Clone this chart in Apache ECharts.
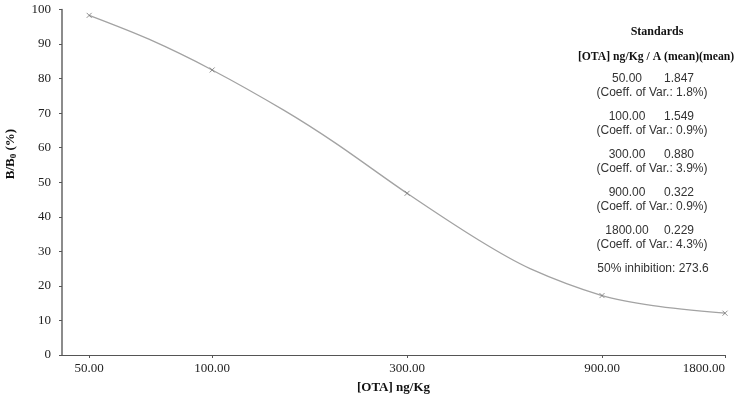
<!DOCTYPE html>
<html>
<head>
<meta charset="utf-8">
<script src="https://cdn.jsdelivr.net/npm/echarts@6/dist/echarts.min.js"></script>
<style>
  html, body { margin: 0; padding: 0; background: #fff; }
  #chart { width: 737px; height: 395px; }
</style>
</head>
<body>
<div id="chart"></div>
<script>
// standards (measured points)
const stdConc = [50, 100, 300, 900, 1800];
const stdBB0 = [98.3, 82.5, 46.8, 17.2, 12.1];
const stdAbs = ['1.847', '1.549', '0.880', '0.322', '0.229'];
const stdCV = ['1.8%', '0.9%', '3.9%', '0.9%', '4.3%'];
const ic50 = '273.6';

// fitted curve
const curveConc = [50, 70, 100, 150, 200, 300, 450, 600, 900, 1200, 1800];
const curveBB0 = [98.3, 91.4, 82.5, 70.8, 61.4, 46.8, 33.2, 25.0, 17.2, 14.3, 12.1];

const xTicks = [50, 100, 300, 900, 1800];

const serif = '"Liberation Serif", "Times New Roman", serif';
const sans = '"Liberation Sans", Arial, sans-serif';

const chart = echarts.init(document.getElementById('chart'));

// right-hand "Standards" block
const side = [
  { type: 'text', x: 657, y: 32, style: { text: 'Standards', font: 'bold 12px ' + serif, fill: '#111', align: 'center', verticalAlign: 'middle' } },
  { type: 'text', x: 656, y: 57, style: { text: '[OTA] ng/Kg / A (mean)(mean)', font: 'bold 11.7px ' + serif, fill: '#111', align: 'center', verticalAlign: 'middle' } }
];
stdConc.forEach((c, i) => {
  const y = 79 + i * 38;
  side.push({ type: 'text', x: 627, y: y, style: { text: c.toFixed(2), font: '12px ' + sans, fill: '#333', align: 'center', verticalAlign: 'middle' } });
  side.push({ type: 'text', x: 679, y: y, style: { text: stdAbs[i], font: '12px ' + sans, fill: '#333', align: 'center', verticalAlign: 'middle' } });
  side.push({ type: 'text', x: 652, y: y + 13.5, style: { text: '(Coeff. of Var.: ' + stdCV[i] + ')', font: '12px ' + sans, fill: '#333', align: 'center', verticalAlign: 'middle' } });
});
side.push({ type: 'text', x: 653, y: 269, style: { text: '50% inhibition: ' + ic50, font: '12px ' + sans, fill: '#333', align: 'center', verticalAlign: 'middle' } });

// y axis title with subscript
side.push({
  type: 'text', x: 11, y: 154, rotation: Math.PI / 2,
  style: {
    text: 'B/B{s|0} (%)', font: 'bold 13px ' + serif, fill: '#111', align: 'center', verticalAlign: 'middle',
    rich: { s: { fontFamily: serif, fontWeight: 'bold', fontSize: 9, verticalAlign: 'bottom', padding: [6, 0, 0, 0] } }
  }
});

const option = {
  animation: false,
  backgroundColor: '#fff',
  grid: { left: 62, right: 12, top: 9.5, bottom: 40, containLabel: false, outerBoundsMode: 'none' },
  xAxis: {
    type: 'log',
    logBase: 10,
    min: 42.9,
    max: 1800,
    name: '[OTA] ng/Kg',
    nameLocation: 'middle',
    nameGap: 26,
    nameTextStyle: { fontFamily: serif, fontWeight: 'bold', fontSize: 13, color: '#111' },
    axisLine: { lineStyle: { color: '#555', width: 1.2 } },
    axisTick: { show: true, length: 3, lineStyle: { color: '#555' }, customValues: xTicks },
    axisLabel: {
      fontFamily: serif, fontSize: 13, color: '#222', margin: 7,
      customValues: xTicks,
      alignMaxLabel: 'right',
      formatter: v => Number(v).toFixed(2)
    },
    splitLine: { show: false },
    minorTick: { show: false }
  },
  yAxis: {
    type: 'value',
    min: 0,
    max: 100,
    interval: 10,
    axisLine: { show: true, lineStyle: { color: '#666', width: 1.5 } },
    axisTick: { show: true, length: 3, lineStyle: { color: '#555' } },
    axisLabel: { fontFamily: serif, fontSize: 13, color: '#222', margin: 11 },
    splitLine: { show: false }
  },
  graphic: side,
  series: [
    {
      name: 'fit',
      type: 'line',
      data: curveConc.map((c, i) => [c, curveBB0[i]]),
      smooth: 0.3,
      symbol: 'none',
      lineStyle: { color: '#a3a3a3', width: 1.3 },
      z: 2
    },
    {
      name: 'standards',
      type: 'scatter',
      data: stdConc.map((c, i) => [c, stdBB0[i]]),
      symbol: 'path://M0,0L10,10M10,0L0,10',
      symbolSize: 5,
      itemStyle: { color: 'rgba(0,0,0,0)', borderColor: '#777', borderWidth: 1 },
      z: 3
    }
  ]
};

chart.setOption(option);
</script>
</body>
</html>
